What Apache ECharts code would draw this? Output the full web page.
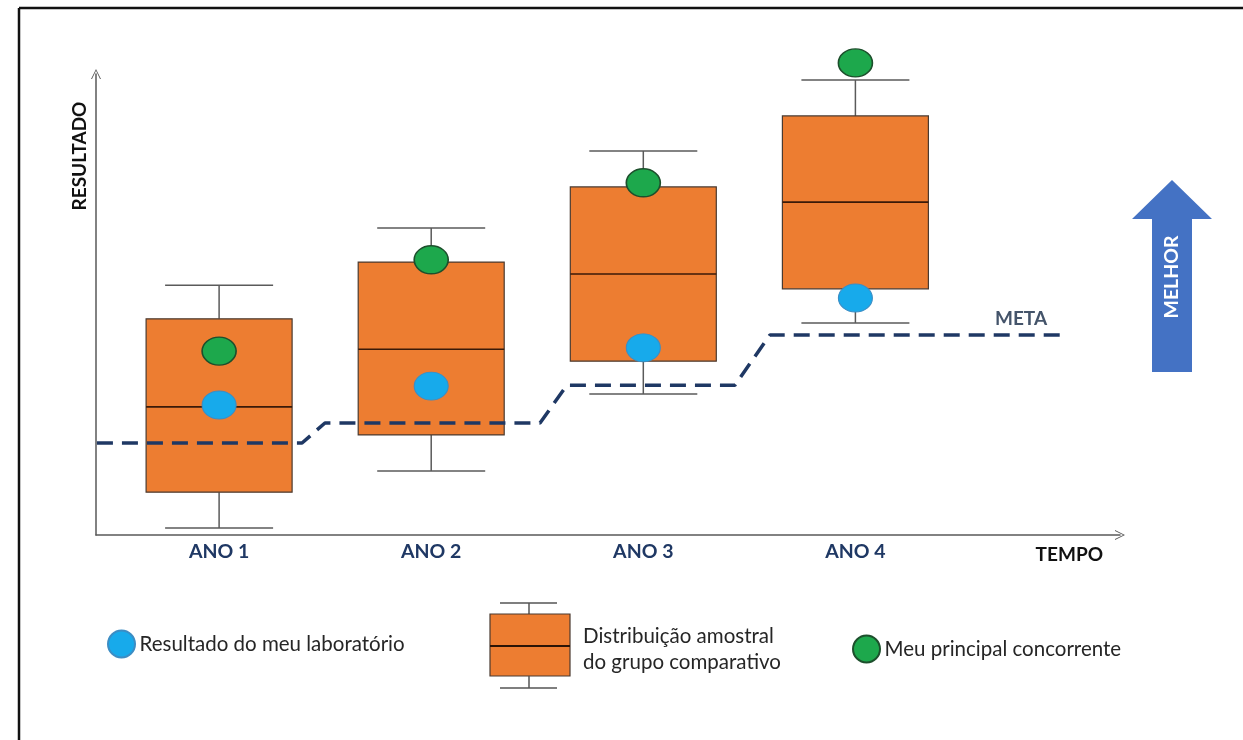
<!DOCTYPE html>
<html>
<head>
<meta charset="utf-8">
<script src="https://cdn.jsdelivr.net/npm/echarts@6/dist/echarts.min.js"></script>
<style>
html,body{margin:0;padding:0;background:#fff;}
#chart{width:1243px;height:740px;}
</style>
</head>
<body>
<div id="chart"></div>
<script>
// ---- data ----
const categories = ['ANO 1', 'ANO 2', 'ANO 3', 'ANO 4'];
const positions = [1, 2, 3, 4];
const whiskerLow = [1.5, 13.9, 30.6, 46.0];
const q1 = [9.3, 21.7, 37.7, 53.4];
const median = [27.8, 40.3, 56.6, 72.2];
const q3 = [46.9, 59.2, 75.5, 90.9];
const whiskerHigh = [54.2, 66.6, 83.3, 98.7];
const meuLaboratorio = [28.2, 32.3, 40.6, 51.4];
const concorrente = [39.9, 59.7, 76.4, 102.4];
const metaX = [0.424, 1.391, 1.499, 2.513, 2.640, 3.432, 3.597, 4.781, 5.002];
const metaY = [19.96, 19.96, 24.3, 24.3, 32.5, 32.5, 43.4, 43.4, 43.4];
const metaLabelIndex = 7;
const legendNames = ['Resultado do meu laboratório', 'Distribuição amostral\ndo grupo comparativo', 'Meu principal concorrente'];

const boxData = positions.map((p, i) => [p, whiskerLow[i], q1[i], median[i], q3[i], whiskerHigh[i]]);
const blueData = positions.map((p, i) => [p, meuLaboratorio[i]]);
const greenData = positions.map((p, i) => [p, concorrente[i]]);
const metaData = metaX.map((x, i) => [x, metaY[i]]);

const FONT = 'Lato';
const ORANGE = '#ED7D31';
const NAVY = '#1F3864';
const chevron = 'path://M0,10 L5,0 L10,10 L9,10 L5,1.8 L1,10 Z';

const chart = echarts.init(document.getElementById('chart'), null, {renderer: 'canvas'});

const legendText = {fontSize: 20.5, color: '#262626', fontFamily: FONT, padding: [0, 0, 0, -2]};

const option = {
  animation: false,
  backgroundColor: '#ffffff',
  grid: {left: 96, right: 123, top: 74, bottom: 205},
  xAxis: {
    type: 'value', min: 0.4196, max: 5.2475,
    splitLine: {show: false},
    axisTick: {show: false},
    axisLine: {show: true, symbol: ['none', chevron], symbolSize: [16, 10],
      lineStyle: {color: '#595959', width: 1.5}},
    axisLabel: {
      customValues: positions,
      formatter: v => categories[Math.round(v) - 1] || '',
      color: NAVY, fontWeight: 'bold', fontSize: 19.5, fontFamily: FONT, margin: 7
    }
  },
  yAxis: {
    type: 'value', min: 0, max: 100,
    splitLine: {show: false},
    axisTick: {show: false},
    axisLabel: {show: false},
    axisLine: {show: true, symbol: ['none', chevron], symbolSize: [16, 10],
      lineStyle: {color: '#595959', width: 1.5}}
  },
  legend: [
    {
      data: [legendNames[0]], left: 107, top: 629.5, padding: 0, icon: 'circle',
      itemWidth: 30, itemHeight: 27, itemGap: 0,
      textStyle: legendText, selectedMode: false
    },
    {
      data: [legendNames[2]], left: 852, top: 634.5, padding: 0, icon: 'circle',
      itemWidth: 30, itemHeight: 27, itemGap: 0,
      textStyle: legendText, selectedMode: false
    }
  ],
  graphic: [
    {type: 'line', shape: {x1: 19, y1: 8, x2: 1243, y2: 8}, style: {stroke: '#111', lineWidth: 2.5}},
    {type: 'line', shape: {x1: 19, y1: 8, x2: 19, y2: 740}, style: {stroke: '#111', lineWidth: 2.5}},
    {type: 'text', x: 80, y: 156, rotation: Math.PI / 2,
      style: {text: 'RESULTADO', fill: '#111', font: 'bold 19px ' + FONT, align: 'center', verticalAlign: 'middle'}},
    {type: 'text', x: 1103, y: 555,
      style: {text: 'TEMPO', fill: '#111', font: 'bold 19px ' + FONT, align: 'right', verticalAlign: 'middle'}},
    {type: 'polygon', shape: {points: [[1172, 180], [1212, 219], [1192, 219], [1192, 372], [1152, 372], [1152, 219], [1132, 219]]},
      style: {fill: '#4472C4'}},
    {type: 'text', x: 1172, y: 277, rotation: Math.PI / 2,
      style: {text: 'MELHOR', fill: '#ffffff', font: 'bold 19.5px ' + FONT, align: 'center', verticalAlign: 'middle'}},
    // box legend icon
    {type: 'line', shape: {x1: 500, y1: 603, x2: 557, y2: 603}, style: {stroke: '#555', lineWidth: 1.5}},
    {type: 'line', shape: {x1: 529, y1: 603, x2: 529, y2: 614}, style: {stroke: '#555', lineWidth: 1.5}},
    {type: 'rect', shape: {x: 490, y: 614, width: 80, height: 62}, style: {fill: ORANGE, stroke: '#4a3a30', lineWidth: 1.2}},
    {type: 'line', shape: {x1: 490, y1: 646, x2: 570, y2: 646}, style: {stroke: '#2b1406', lineWidth: 2}},
    {type: 'line', shape: {x1: 529, y1: 676, x2: 529, y2: 688}, style: {stroke: '#555', lineWidth: 1.5}},
    {type: 'line', shape: {x1: 500, y1: 688, x2: 557, y2: 688}, style: {stroke: '#555', lineWidth: 1.5}},
    {type: 'text', x: 583, y: 649,
      style: {text: legendNames[1], fill: '#262626', font: '20.5px ' + FONT, lineHeight: 26, align: 'left', verticalAlign: 'middle'}}
  ],
  series: [
    {
      type: 'custom',
      name: legendNames[1],
      data: boxData,
      encode: {x: 0, y: [1, 2, 3, 4, 5]},
      z: 1,
      renderItem: function (params, api) {
        const x = api.value(0);
        const pLow = api.coord([x, api.value(1)]);
        const pQ1 = api.coord([x, api.value(2)]);
        const pMed = api.coord([x, api.value(3)]);
        const pQ3 = api.coord([x, api.value(4)]);
        const pHigh = api.coord([x, api.value(5)]);
        const bw = 146, cw = 108, cx = pMed[0];
        const wStyle = {stroke: '#5a5a5a', lineWidth: 1.5};
        return {
          type: 'group',
          children: [
            {type: 'line', shape: {x1: cx, y1: pHigh[1], x2: cx, y2: pQ3[1]}, style: wStyle},
            {type: 'line', shape: {x1: cx, y1: pQ1[1], x2: cx, y2: pLow[1]}, style: wStyle},
            {type: 'line', shape: {x1: cx - cw / 2, y1: pHigh[1], x2: cx + cw / 2, y2: pHigh[1]}, style: wStyle},
            {type: 'line', shape: {x1: cx - cw / 2, y1: pLow[1], x2: cx + cw / 2, y2: pLow[1]}, style: wStyle},
            {type: 'rect', shape: {x: cx - bw / 2, y: pQ3[1], width: bw, height: pQ1[1] - pQ3[1]},
              style: {fill: ORANGE, stroke: '#4a3a30', lineWidth: 1.2}},
            {type: 'line', shape: {x1: cx - bw / 2, y1: pMed[1], x2: cx + bw / 2, y2: pMed[1]},
              style: {stroke: '#3a1a08', lineWidth: 1.6}}
          ]
        };
      }
    },
    {
      type: 'line',
      name: 'META',
      data: metaData,
      z: 3,
      symbol: 'circle',
      symbolSize: 1,
      showSymbol: true,
      showAllSymbol: true,
      clip: false,
      itemStyle: {color: 'rgba(0,0,0,0)', borderWidth: 0},
      lineStyle: {color: NAVY, width: 3.5, type: [16, 9]},
      label: {
        show: true, position: 'top', distance: 6,
        formatter: p => p.dataIndex === metaLabelIndex ? 'META' : '',
        color: '#44546A', fontWeight: 'bold', fontSize: 19, fontFamily: FONT
      }
    },
    {
      type: 'scatter',
      name: legendNames[0],
      data: blueData,
      z: 4,
      clip: false,
      symbol: 'circle',
      symbolSize: [34, 28],
      itemStyle: {color: '#17AAEB', borderColor: '#3C8DC4', borderWidth: 1, opacity: 1}
    },
    {
      type: 'scatter',
      name: legendNames[2],
      data: greenData,
      z: 4,
      clip: false,
      symbol: 'circle',
      symbolSize: [34, 28],
      itemStyle: {color: '#1DA84C', borderColor: '#1D4F2C', borderWidth: 1.5, opacity: 1}
    }
  ]
};
chart.setOption(option);
</script>
</body>
</html>
